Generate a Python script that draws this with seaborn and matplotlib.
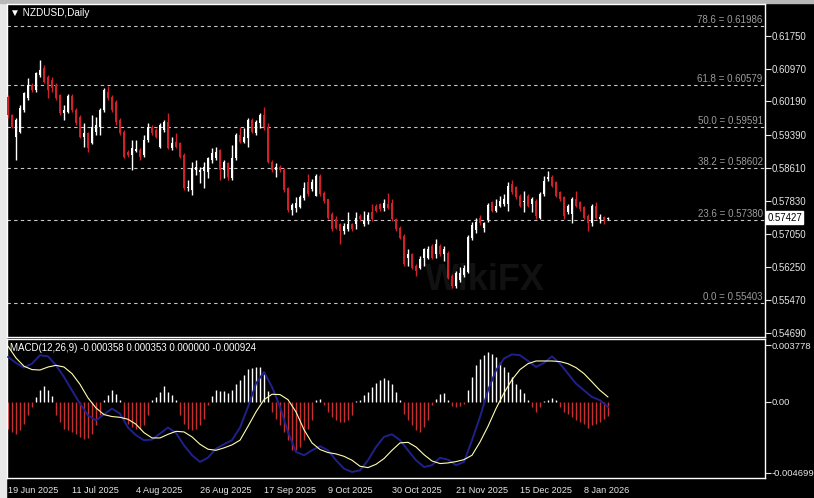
import numpy as np
import matplotlib
matplotlib.use('Agg')
import matplotlib.pyplot as plt
import seaborn as sns
from matplotlib.patches import Rectangle

# ---- data ----
symbol_title = '\u25bc NZDUSD,Daily'
tick_dates = ['19 Jun 2025', '11 Jul 2025', '4 Aug 2025', '26 Aug 2025', '17 Sep 2025',
              '9 Oct 2025', '30 Oct 2025', '21 Nov 2025', '15 Dec 2025', '8 Jan 2026']
price_ticks = [0.61750, 0.60970, 0.60190, 0.59390, 0.58610, 0.57830, 0.57050, 0.56250, 0.55470, 0.54690]
fib_levels = [78.6, 61.8, 50.0, 38.2, 23.6, 0.0]
fib_prices = [0.61986, 0.60579, 0.59591, 0.58602, 0.57380, 0.55403]
last_price = 0.57427

open_px = [
    0.60302, 0.59867, 0.59353, 0.59472, 0.59986, 0.60263, 0.60579, 0.60460, 0.60816, 0.60975,
    0.60777, 0.60698, 0.60579, 0.60342, 0.59907, 0.59946, 0.60326, 0.59986, 0.59828, 0.59353,
    0.59432, 0.59195, 0.59472, 0.59590, 0.59986, 0.60421, 0.60302, 0.60184, 0.59749, 0.59472,
    0.58997, 0.58918, 0.59013, 0.59037, 0.58918, 0.59274, 0.59590, 0.59511, 0.59116, 0.59512,
    0.59709, 0.59077, 0.59235, 0.59196, 0.58919, 0.58129, 0.58090, 0.58564, 0.58524, 0.58548,
    0.58524, 0.58801, 0.58840, 0.59038, 0.58564, 0.58722, 0.58366, 0.58840, 0.59393, 0.59235,
    0.59314, 0.59749, 0.59433, 0.59670, 0.59867, 0.59591, 0.58761, 0.58564, 0.58643, 0.58564,
    0.58129, 0.57616, 0.57655, 0.57695, 0.57892, 0.58266, 0.58107, 0.57949, 0.58424, 0.58028,
    0.57870, 0.57514, 0.57395, 0.57277, 0.57119, 0.57158, 0.57277, 0.57277, 0.57475, 0.57277,
    0.57356, 0.57554, 0.57712, 0.57751, 0.57672, 0.57751, 0.57791, 0.57395, 0.57198, 0.57000,
    0.56486, 0.56565, 0.56288, 0.56249, 0.56486, 0.56486, 0.56763, 0.56565, 0.56763, 0.56565,
    0.56604, 0.56051, 0.55813, 0.55952, 0.56071, 0.56150, 0.56941, 0.57139, 0.57415, 0.57178,
    0.57376, 0.57792, 0.57593, 0.57712, 0.57752, 0.57752, 0.58228, 0.58149, 0.57951, 0.57792,
    0.57951, 0.57752, 0.57831, 0.57434, 0.57990, 0.58348, 0.58387, 0.58268, 0.58030, 0.57911,
    0.57554, 0.57514, 0.57871, 0.57792, 0.57673, 0.57474, 0.57315, 0.57712, 0.57395, 0.57458,
    0.57395]
high_px = [
    0.60342, 0.59883, 0.59788, 0.60104, 0.60421, 0.60737, 0.60619, 0.60895, 0.61172, 0.61054,
    0.60816, 0.60777, 0.60619, 0.60358, 0.60104, 0.60358, 0.60358, 0.60025, 0.59867, 0.59669,
    0.59472, 0.59867, 0.59828, 0.60025, 0.60500, 0.60563, 0.60342, 0.60223, 0.59788, 0.59511,
    0.59037, 0.59274, 0.59274, 0.59076, 0.59393, 0.59669, 0.59630, 0.59551, 0.59669, 0.59749,
    0.59907, 0.59354, 0.59433, 0.59235, 0.58959, 0.58327, 0.58761, 0.58801, 0.58643, 0.58761,
    0.58880, 0.59077, 0.59117, 0.59054, 0.58801, 0.58761, 0.59156, 0.59433, 0.59591, 0.59551,
    0.59788, 0.59788, 0.59749, 0.59907, 0.60065, 0.59670, 0.58801, 0.58722, 0.58682, 0.58603,
    0.58169, 0.57774, 0.57932, 0.57971, 0.58287, 0.58463, 0.58345, 0.58463, 0.58463, 0.58068,
    0.57886, 0.57554, 0.57475, 0.57316, 0.57316, 0.57554, 0.57316, 0.57554, 0.57514, 0.57593,
    0.57554, 0.57751, 0.57751, 0.57791, 0.57886, 0.58028, 0.57870, 0.57435, 0.57237, 0.57040,
    0.56684, 0.56604, 0.56328, 0.56525, 0.56723, 0.56763, 0.56802, 0.56921, 0.56802, 0.56763,
    0.56644, 0.56090, 0.56169, 0.56268, 0.56308, 0.57020, 0.57336, 0.57415, 0.57495, 0.57336,
    0.57790, 0.57831, 0.57871, 0.57951, 0.57990, 0.58268, 0.58332, 0.58189, 0.57990, 0.58070,
    0.57990, 0.57911, 0.57871, 0.58030, 0.58427, 0.58546, 0.58443, 0.58308, 0.58070, 0.57951,
    0.57752, 0.57911, 0.58070, 0.57831, 0.57712, 0.57514, 0.57752, 0.57792, 0.57514, 0.57474,
    0.57458]
low_px = [
    0.59788, 0.59551, 0.58799, 0.59432, 0.59946, 0.60223, 0.60421, 0.60421, 0.60777, 0.60619,
    0.60263, 0.60421, 0.60223, 0.59867, 0.59749, 0.59907, 0.59946, 0.59630, 0.59313, 0.59116,
    0.58997, 0.59171, 0.59393, 0.59393, 0.59946, 0.60223, 0.59946, 0.59630, 0.59393, 0.58839,
    0.58878, 0.58562, 0.58997, 0.58799, 0.58878, 0.59234, 0.59393, 0.59313, 0.59076, 0.59472,
    0.59054, 0.59038, 0.59077, 0.58840, 0.58090, 0.58074, 0.57971, 0.58445, 0.58248, 0.58129,
    0.58366, 0.58722, 0.58801, 0.58327, 0.58366, 0.58327, 0.58327, 0.58801, 0.59196, 0.59196,
    0.59117, 0.59433, 0.59393, 0.59551, 0.59512, 0.58722, 0.58524, 0.58406, 0.58524, 0.58050,
    0.57576, 0.57497, 0.57576, 0.57655, 0.57853, 0.57949, 0.58068, 0.57949, 0.57949, 0.57791,
    0.57395, 0.57119, 0.57158, 0.56802, 0.57040, 0.57119, 0.57119, 0.57158, 0.57356, 0.57237,
    0.57277, 0.57356, 0.57554, 0.57593, 0.57593, 0.57633, 0.57356, 0.57119, 0.56921, 0.56288,
    0.56288, 0.56209, 0.56051, 0.56209, 0.56288, 0.56446, 0.56446, 0.56486, 0.56525, 0.56407,
    0.55972, 0.55774, 0.55774, 0.55913, 0.56030, 0.56110, 0.56900, 0.57059, 0.57257, 0.57099,
    0.57336, 0.57554, 0.57554, 0.57673, 0.57712, 0.57593, 0.57990, 0.57871, 0.57673, 0.57554,
    0.57673, 0.57554, 0.57395, 0.57411, 0.57951, 0.58308, 0.58149, 0.57911, 0.57831, 0.57395,
    0.57514, 0.57315, 0.57673, 0.57593, 0.57395, 0.57117, 0.57236, 0.57395, 0.57315, 0.57276,
    0.57379]
close_px = [
    0.59867, 0.59590, 0.59749, 0.60025, 0.60381, 0.60579, 0.60460, 0.60856, 0.60935, 0.60658,
    0.60460, 0.60500, 0.60263, 0.59907, 0.59986, 0.60326, 0.59986, 0.59669, 0.59353, 0.59432,
    0.59076, 0.59590, 0.59630, 0.59986, 0.60460, 0.60263, 0.59986, 0.59709, 0.59432, 0.58878,
    0.58918, 0.59076, 0.59060, 0.58878, 0.59274, 0.59590, 0.59432, 0.59353, 0.59630, 0.59709,
    0.59077, 0.59212, 0.59117, 0.58880, 0.58129, 0.58169, 0.58603, 0.58643, 0.58564, 0.58643,
    0.58840, 0.58959, 0.58983, 0.58564, 0.58761, 0.58406, 0.58840, 0.59393, 0.59235, 0.59354,
    0.59749, 0.59472, 0.59709, 0.59867, 0.59591, 0.58761, 0.58564, 0.58643, 0.58564, 0.58090,
    0.57616, 0.57734, 0.57774, 0.57932, 0.58129, 0.57989, 0.58266, 0.58424, 0.57989, 0.57831,
    0.57435, 0.57158, 0.57198, 0.57119, 0.57237, 0.57277, 0.57158, 0.57435, 0.57395, 0.57356,
    0.57490, 0.57395, 0.57593, 0.57633, 0.57791, 0.57672, 0.57395, 0.57158, 0.56960, 0.56328,
    0.56565, 0.56249, 0.56169, 0.56446, 0.56684, 0.56699, 0.56486, 0.56802, 0.56565, 0.56684,
    0.56011, 0.55813, 0.56130, 0.56126, 0.56229, 0.56980, 0.57257, 0.57336, 0.57297, 0.57297,
    0.57732, 0.57593, 0.57712, 0.57831, 0.57871, 0.58189, 0.58030, 0.57911, 0.57712, 0.57831,
    0.57712, 0.57871, 0.57474, 0.57990, 0.58308, 0.58387, 0.58189, 0.57951, 0.57871, 0.57474,
    0.57712, 0.57871, 0.57712, 0.57633, 0.57434, 0.57315, 0.57712, 0.57434, 0.57458, 0.57379,
    0.57427]

# MACD histogram, one value per bar
macd_hist = [
    -0.00177, -0.00199, -0.00210, -0.00188, -0.00144, -0.00089, -0.00033, 0.00033, 0.00082, 0.00104,
    0.00082, 0.00038, -0.00089, -0.00133, -0.00177, -0.00188, -0.00199, -0.00215, -0.00232, -0.00243,
    -0.00237, -0.00210, -0.00155, -0.00089, 0.00011, 0.00044, 0.00082, 0.00055, 0.00015, -0.00111,
    -0.00144, -0.00166, -0.00177, -0.00177, -0.00155, -0.00089, 0.00011, 0.00033, 0.00066, 0.00104,
    0.00066, 0.00044, 0.00015, -0.00089, -0.00144, -0.00177, -0.00188, -0.00177, -0.00155, -0.00111,
    -0.00022, 0.00038, 0.00082, 0.00073, 0.00073, 0.00060, 0.00077, 0.00122, 0.00148, 0.00177,
    0.00221, 0.00228, 0.00232, 0.00232, 0.00188, 0.00073, -0.00066, -0.00111, -0.00155, -0.00199,
    -0.00254, -0.00321, -0.00321, -0.00299, -0.00254, -0.00177, -0.00122, 0.00015, 0.00022, -0.00022,
    -0.00066, -0.00100, -0.00122, -0.00133, -0.00133, -0.00122, -0.00089, 0.00007, 0.00015, 0.00044,
    0.00066, 0.00100, 0.00126, 0.00148, 0.00162, 0.00148, 0.00117, 0.00066, 0.00011, -0.00077,
    -0.00122, -0.00155, -0.00188, -0.00199, -0.00166, -0.00122, -0.00022, 0.00022, 0.00055, 0.00060,
    0.00015, -0.00029, -0.00033, -0.00029, -0.00011, 0.00077, 0.00166, 0.00243, 0.00288, 0.00310,
    0.00332, 0.00316, 0.00299, 0.00266, 0.00232, 0.00199, 0.00166, 0.00122, 0.00089, 0.00060,
    0.00011, -0.00033, -0.00066, -0.00033, 0.00004, 0.00011, 0.00029, 0.00011, -0.00033, -0.00066,
    -0.00077, -0.00100, -0.00122, -0.00133, -0.00144, -0.00170, -0.00155, -0.00144, -0.00133, -0.00115,
    -0.00093]

# MACD main (blue) and signal (yellow), read every second bar
macd_main = [
    0.00299, 0.00259, 0.00228, 0.00254, 0.00310, 0.00303, 0.00243, 0.00166, 0.00077, -0.00011,
    -0.00089, -0.00122, -0.00082, -0.00044, -0.00077, -0.00170, -0.00221, -0.00254, -0.00250, -0.00210,
    -0.00170, -0.00206, -0.00288, -0.00354, -0.00398, -0.00370, -0.00310, -0.00281, -0.00254, -0.00170,
    -0.00033, 0.00122, 0.00199, 0.00100, -0.00033, -0.00199, -0.00332, -0.00354, -0.00321, -0.00294,
    -0.00321, -0.00387, -0.00443, -0.00465, -0.00454, -0.00387, -0.00299, -0.00232, -0.00215, -0.00254,
    -0.00321, -0.00387, -0.00432, -0.00420, -0.00370, -0.00383, -0.00420, -0.00398, -0.00254, -0.00100,
    0.00077, 0.00210, 0.00288, 0.00316, 0.00310, 0.00272, 0.00232, 0.00259, 0.00303, 0.00254,
    0.00188, 0.00122, 0.00077, 0.00033, 0.00011, -0.00033]
macd_signal = [
    0.00370, 0.00292, 0.00237, 0.00215, 0.00212, 0.00232, 0.00243, 0.00232, 0.00188, 0.00117,
    0.00027, -0.00040, -0.00084, -0.00097, -0.00102, -0.00115, -0.00148, -0.00204, -0.00239, -0.00239,
    -0.00215, -0.00195, -0.00199, -0.00232, -0.00281, -0.00314, -0.00321, -0.00305, -0.00285, -0.00254,
    -0.00162, -0.00066, 0.00015, 0.00051, 0.00049, 0.00015, -0.00066, -0.00184, -0.00272, -0.00316,
    -0.00336, -0.00345, -0.00361, -0.00387, -0.00427, -0.00436, -0.00414, -0.00376, -0.00321, -0.00272,
    -0.00268, -0.00299, -0.00350, -0.00392, -0.00409, -0.00405, -0.00396, -0.00383, -0.00354, -0.00266,
    -0.00162, -0.00044, 0.00060, 0.00148, 0.00215, 0.00254, 0.00272, 0.00272, 0.00272, 0.00268,
    0.00254, 0.00228, 0.00188, 0.00133, 0.00077, 0.00033]
macd_legend = 'MACD(12,26,9) -0.000358 0.000353 0.000000 -0.000924'
macd_ticks = [0.003778, 0.0, -0.004699]
macd_tick_labels = ['0.003778', '0.00', '-0.004699']

# ---- style ----
sns.set_theme(style='dark', rc={
    'figure.facecolor': 'black',
    'axes.facecolor': 'black',
    'axes.edgecolor': 'white',
    'axes.linewidth': 1.0,
    'text.color': 'white',
    'xtick.color': 'white',
    'ytick.color': 'white',
})
plt.rcParams['font.family'] = ['Liberation Sans', 'DejaVu Sans']

BULL = '#ffffff'
BEAR = '#d0202a'
W, H = 814, 498

fig = plt.figure(figsize=(W / 100, H / 100), dpi=100)
ax = fig.add_axes([7 / W, 161 / H, 758 / W, 333 / H])
ax2 = fig.add_axes([7 / W, 20 / H, 758 / W, 139 / H])

# window frame strips (left and top)
fig.add_artist(Rectangle((0, 0), 6 / W, 1, transform=fig.transFigure, color='#e8e8e8', zorder=0))
fig.add_artist(Rectangle((0, 1 - 3 / H), 1, 3 / H, transform=fig.transFigure, color='#b8b8b8', zorder=0))

x = np.arange(len(close_px))
o = np.array(open_px)
c = np.array(close_px)
h = np.array(high_px)
l = np.array(low_px)
colors = np.where(c >= o, BULL, BEAR)

# candles
ax.vlines(x, l, h, colors=colors, lw=1.0, zorder=3)
body = np.maximum(np.abs(c - o), 0.00004)
ax.bar(x, body, bottom=np.minimum(o, c), width=0.7, color=colors, linewidth=0, zorder=4)

# fibonacci levels
for lvl, p in zip(fib_levels, fib_prices):
    ax.axhline(p, color='#c8c8c8', lw=0.8, ls=(0, (3, 3)), zorder=2)
    ax.text(0.997, p + 0.0002, f'{lvl:.1f} = {p:.5f}', transform=ax.get_yaxis_transform(),
            ha='right', va='bottom', color='#9c9c9c', fontsize=7, zorder=5)

ax.set_xlim(-0.25, 189.25)
ax.set_ylim(0.54600, 0.62501)
ax.yaxis.tick_right()
ax.set_yticks(price_ticks)
ax.set_yticklabels([f'{v:.5f}' for v in price_ticks])
ax.tick_params(axis='y', colors='#e6e6e6', labelsize=6.9, length=4, width=0.8, pad=1, direction='out')
ax.tick_params(axis='x', bottom=False, labelbottom=False)
ax.grid(False)

ax.text(1.003, last_price, f'{last_price:.5f}', transform=ax.get_yaxis_transform(),
        ha='left', va='center', fontsize=6.9, color='black', clip_on=False, zorder=10,
        bbox=dict(boxstyle='square,pad=0.15', fc='white', ec='white'))
ax.text(0.004, 0.988, symbol_title, transform=ax.transAxes, ha='left', va='top',
        color='white', fontsize=7.2)
ax.text(0.63, 0.17, 'WikiFX', transform=ax.transAxes, ha='center', va='center',
        color='#111111', fontsize=26, fontweight='bold', zorder=1)

# MACD panel
hist = np.array(macd_hist)
ax2.vlines(x, 0, hist, colors=np.where(hist >= 0, '#ffffff', '#c83030'), lw=1.0, zorder=2)
line_x = np.arange(0, len(close_px), 2)
sns.lineplot(x=line_x, y=macd_main, ax=ax2, color='#20208c', lw=1.4, zorder=3)
sns.lineplot(x=line_x, y=macd_signal, ax=ax2, color='#ffffb0', lw=0.8, zorder=4)

ax2.set_xlim(-0.25, 189.25)
ax2.set_ylim(-0.00505, 0.00418)
ax2.yaxis.tick_right()
ax2.set_yticks(macd_ticks)
ax2.set_yticklabels(macd_tick_labels)
ax2.set_xticks(np.arange(0, 16 * len(tick_dates), 16))
ax2.set_xticklabels(tick_dates, ha='left')
ax2.tick_params(axis='y', colors='#e6e6e6', labelsize=6.8, length=4, width=0.8, pad=1)
ax2.tick_params(axis='x', colors='#e6e6e6', labelsize=6.6, length=4, width=0.8, pad=2)
ax2.set_xlabel('')
ax2.set_ylabel('')
ax2.grid(False)
ax2.text(0.004, 0.97, macd_legend, transform=ax2.transAxes, ha='left', va='top',
         color='white', fontsize=7)

fig.savefig('out.png', dpi=100, facecolor='black')
